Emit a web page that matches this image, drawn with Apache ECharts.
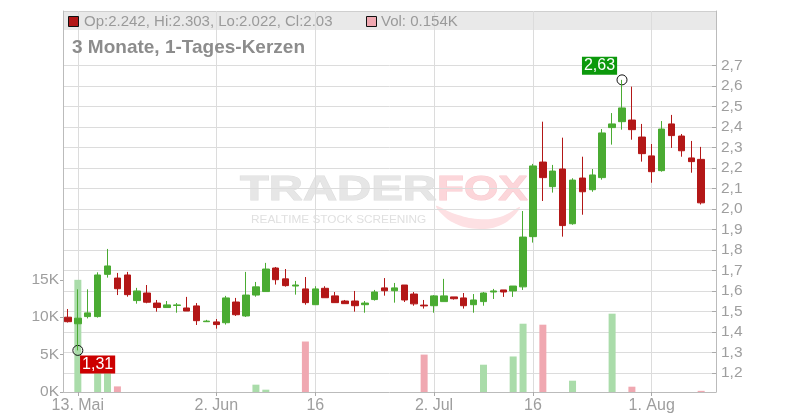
<!DOCTYPE html>
<html><head><meta charset="utf-8">
<script src="https://cdn.jsdelivr.net/npm/echarts@6/dist/echarts.min.js"></script>
<style>html,body{margin:0;padding:0;background:#fff}#c{width:800px;height:420px}</style>
</head><body><div id="c"></div>
<script>
const dates = [
 '2025-05-12','2025-05-13','2025-05-14','2025-05-15','2025-05-16',
 '2025-05-19','2025-05-20','2025-05-21','2025-05-22','2025-05-23',
 '2025-05-26','2025-05-27','2025-05-28','2025-05-29','2025-05-30',
 '2025-06-02','2025-06-03','2025-06-04','2025-06-05','2025-06-06',
 '2025-06-09','2025-06-10','2025-06-11','2025-06-12','2025-06-13',
 '2025-06-16','2025-06-17','2025-06-18','2025-06-19','2025-06-20',
 '2025-06-23','2025-06-24','2025-06-25','2025-06-26','2025-06-27',
 '2025-06-30','2025-07-01','2025-07-02','2025-07-03','2025-07-04',
 '2025-07-07','2025-07-08','2025-07-09','2025-07-10','2025-07-11',
 '2025-07-14','2025-07-15','2025-07-16','2025-07-17','2025-07-18',
 '2025-07-21','2025-07-22','2025-07-23','2025-07-24','2025-07-25',
 '2025-07-28','2025-07-29','2025-07-30','2025-07-31','2025-08-01',
 '2025-08-04','2025-08-05','2025-08-06','2025-08-07','2025-08-08',
 '2025-08-11'
];
const opens = [1.472,1.440,1.475,1.475,1.681,1.663,1.678,1.553,1.590,1.541,
 1.519,1.529,1.517,1.527,1.450,1.449,1.445,1.546,1.478,1.580,
 1.597,1.712,1.659,1.624,1.610,1.533,1.613,1.576,1.551,1.551,
 1.533,1.558,1.615,1.601,1.629,1.585,1.531,1.528,1.548,1.571,
 1.566,1.533,1.548,1.595,1.605,1.600,1.620,1.865,2.229,2.109,
 2.195,1.928,2.151,2.094,2.153,2.397,2.426,2.434,2.351,2.259,
 2.187,2.415,2.356,2.249,2.242];
const closes = [1.450,1.467,1.493,1.678,1.722,1.611,1.582,1.600,1.545,1.519,
 1.532,1.532,1.502,1.455,1.453,1.436,1.566,1.484,1.580,1.620,
 1.707,1.655,1.626,1.629,1.543,1.610,1.567,1.543,1.538,1.528,
 1.541,1.595,1.601,1.615,1.556,1.537,1.527,1.576,1.576,1.562,
 1.528,1.556,1.590,1.600,1.595,1.624,1.863,2.210,2.153,2.185,
 1.919,2.141,2.084,2.166,2.371,2.415,2.493,2.387,2.270,2.182,
 2.390,2.358,2.284,2.231,2.030];
const lows = [1.446,1.310,1.466,1.470,1.665,1.580,1.572,1.538,1.540,1.499,
 1.519,1.494,1.502,1.434,1.449,1.416,1.436,1.478,1.473,1.572,
 1.597,1.631,1.621,1.582,1.533,1.533,1.567,1.543,1.538,1.499,
 1.494,1.553,1.577,1.543,1.546,1.528,1.514,1.494,1.548,1.558,
 1.514,1.494,1.528,1.561,1.571,1.571,1.605,1.836,2.039,2.080,
 1.865,1.923,1.972,2.084,2.143,2.314,2.387,2.338,2.231,2.128,
 2.182,2.298,2.255,2.177,2.022];
const highs = [1.512,1.608,1.608,1.691,1.805,1.688,1.693,1.615,1.629,1.556,
 1.551,1.541,1.571,1.541,1.459,1.463,1.576,1.566,1.693,1.644,
 1.737,1.717,1.707,1.649,1.668,1.623,1.623,1.595,1.556,1.600,
 1.551,1.605,1.663,1.639,1.629,1.595,1.556,1.580,1.659,1.571,
 1.590,1.585,1.595,1.610,1.605,1.624,1.990,2.220,2.426,2.215,
 2.348,2.150,2.255,2.195,2.390,2.468,2.630,2.597,2.415,2.317,
 2.429,2.459,2.366,2.332,2.303];
const volumes = [0,15000,0,3500,3500,750,0,0,0,0,
 0,0,0,0,0,0,0,0,0,980,
 310,0,0,0,6750,0,0,0,0,0,
 0,0,0,0,0,0,5000,0,0,0,
 0,0,3650,0,0,4750,9130,0,9000,0,
 0,1510,0,0,0,10470,0,710,0,0,
 0,0,0,0,154];
const xTickDates = ['2025-05-13','2025-06-02','2025-06-16','2025-07-02','2025-07-16','2025-08-01'];
const xTickLabels = ['13. Mai','2. Jun','16','2. Jul','16','1. Aug'];
const priceTicks = [1.2,1.3,1.4,1.5,1.6,1.7,1.8,1.9,2.0,2.1,2.2,2.3,2.4,2.5,2.6,2.7];
const volumeTicks = [0,5000,10000,15000];

const UP = '#4aab32', DOWN = '#b31717';
const VUP = '#aadcaa', VDOWN = '#f0a8b1';
const FONT = "'Liberation Sans', Arial, sans-serif";
const labelMap = {};
xTickDates.forEach((d, i) => { labelMap[d] = xTickLabels[i]; });
const isTick = (idx, val) => labelMap[val] !== undefined;

const candleData = opens.map((o, i) => [o, closes[i], lows[i], highs[i]]);
const volData = volumes.map((v, i) => ({
  value: v,
  itemStyle: { color: closes[i] >= opens[i] ? VUP : VDOWN }
}));
const last = opens.length - 1;
const lastUp = closes[last] >= opens[last];
const legendText = 'Op:' + opens[last] + ', Hi:' + highs[last] + ', Lo:' + lows[last] + ', Cl:' + closes[last];
const volText = 'Vol: ' + (volumes[last] / 1000).toFixed(3) + 'K';
const comma = v => Number(v).toFixed(2).replace('.', ',');

const chart = echarts.init(document.getElementById('c'), null, { renderer: 'canvas' });
chart.setOption({
  animation: false,
  backgroundColor: '#fff',
  textStyle: { fontFamily: FONT },
  grid: { left: 63, right: 84, top: 11, bottom: 28, containLabel: false },
  xAxis: {
    type: 'category', data: dates, boundaryGap: true,
    axisLine: { lineStyle: { color: '#bbb' } },
    axisTick: { show: true, alignWithLabel: true, interval: isTick, length: 4, lineStyle: { color: '#aaa' } },
    axisLabel: { interval: isTick, formatter: v => labelMap[v] || '', color: '#9e9e9e', fontSize: 16, margin: 6, fontFamily: FONT },
    splitLine: { show: false }
  },
  yAxis: [
    {
      type: 'value', position: 'right', min: 1.107, max: 2.966, scale: true,
      axisLine: { show: true, lineStyle: { color: '#bbb' } },
      axisTick: { show: true, inside: true, length: 4, customValues: priceTicks, lineStyle: { color: '#aaa' } },
      axisLabel: { customValues: priceTicks, formatter: v => Number(v).toFixed(1).replace('.', ','), color: '#9e9e9e', fontSize: 15.5, margin: 5, fontFamily: FONT },
      splitLine: { show: true, lineStyle: { color: '#dcdcdc', width: 1 } }
    },
    {
      type: 'value', position: 'left', min: 0, max: 50940,
      axisLine: { show: true, lineStyle: { color: '#bbb' } },
      axisTick: { show: true, inside: false, length: 3, customValues: volumeTicks, lineStyle: { color: '#aaa' } },
      axisLabel: { customValues: volumeTicks, formatter: v => (v / 1000) + 'K', color: '#9e9e9e', fontSize: 15.5, margin: 4, fontFamily: FONT },
      splitLine: { show: false }
    }
  ],
  graphic: [
    { type: 'rect', z: -10, shape: { x: 63, y: 11, width: 653, height: 19 }, style: { fill: '#e9e9e9' } },
    { type: 'line', z: -9, shape: { x1: 63, y1: 11.5, x2: 716, y2: 11.5 }, style: { stroke: '#cfcfcf', lineWidth: 1 } },
    { type: 'text', z: -10, x: 240, y: 190, scaleX: 1.35, style: { text: 'TRADER', font: "bold 35px 'Liberation Sans', Arial", fill: '#e6e6e6', stroke: '#dedede', lineWidth: 1, textVerticalAlign: 'middle' } },
    { type: 'text', z: -10, x: 437, y: 190, scaleX: 1.26, style: { text: 'FOX', font: "bold 35px 'Liberation Sans', Arial", fill: '#fcd6da', stroke: '#f9ccd1', lineWidth: 1, textVerticalAlign: 'middle' } },
    { type: 'polygon', z: -10, shape: { smooth: 0.4, points: [[436,206],[452,222],[480,229],[505,223],[520,207],[500,217],[478,219],[455,214]] }, style: { fill: '#fde0e3' } },
    { type: 'text', z: -10, x: 251, y: 220, scaleX: 1.18, style: { text: 'REALTIME STOCK SCREENING', font: "10px 'Liberation Sans', Arial", fill: '#e0e0e0', textVerticalAlign: 'middle' } },
    { type: 'rect', z: 50, shape: { x: 68.5, y: 16.5, width: 10, height: 10 }, style: { fill: lastUp ? UP : DOWN, stroke: '#111', lineWidth: 1 } },
    { type: 'text', z: 50, x: 84, y: 21.5, style: { text: legendText, font: "15px 'Liberation Sans', Arial", fill: '#9a9a9a', textVerticalAlign: 'middle' } },
    { type: 'rect', z: 50, shape: { x: 366.5, y: 16.5, width: 10, height: 10 }, style: { fill: lastUp ? VUP : VDOWN, stroke: '#111', lineWidth: 1 } },
    { type: 'text', z: 50, x: 381, y: 21.5, style: { text: volText, font: "15px 'Liberation Sans', Arial", fill: '#9a9a9a', textVerticalAlign: 'middle' } },
    { type: 'text', z: 50, x: 72, y: 48, style: { text: '3 Monate, 1-Tages-Kerzen', font: "bold 19px 'Liberation Sans', Arial", fill: '#8c8c8c', textVerticalAlign: 'middle' } }
  ],
  series: [
    {
      type: 'bar', name: 'Vol', xAxisIndex: 0, yAxisIndex: 1, data: volData,
      barWidth: 7, z: 2, silent: true,
      markLine: {
        silent: true, z: 1, symbol: ['none', 'none'], label: { show: false },
        lineStyle: { color: '#dcdcdc', width: 1, type: 'solid' },
        data: xTickDates.map(d => ({ xAxis: d }))
      }
    },
    {
      type: 'candlestick', name: 'Kurs', xAxisIndex: 0, yAxisIndex: 0, data: candleData,
      barWidth: 7, z: 10, silent: true,
      itemStyle: { color: UP, color0: DOWN, borderColor: UP, borderColor0: DOWN, borderWidth: 1 },
      markPoint: {
        silent: true, symbol: 'circle', symbolSize: 10,
        itemStyle: { color: 'rgba(255,255,255,0)', borderColor: '#111', borderWidth: 1 },
        data: [
          { type: 'min', valueDim: 'lowest',
            label: { show: true, position: [7.7, 10.6], align: 'left', verticalAlign: 'top', formatter: p => comma(p.value),
              color: '#fff', fontSize: 16, lineHeight: 18, padding: [0, 2], backgroundColor: '#cc0000', fontFamily: FONT } },
          { type: 'max', valueDim: 'highest',
            label: { show: true, position: [0.6, 0.3], align: 'right', verticalAlign: 'bottom', formatter: p => comma(p.value),
              color: '#fff', fontSize: 16, lineHeight: 18, padding: [0, 2], backgroundColor: '#0c990c', fontFamily: FONT } }
        ]
      }
    }
  ]
});
</script></body></html>
